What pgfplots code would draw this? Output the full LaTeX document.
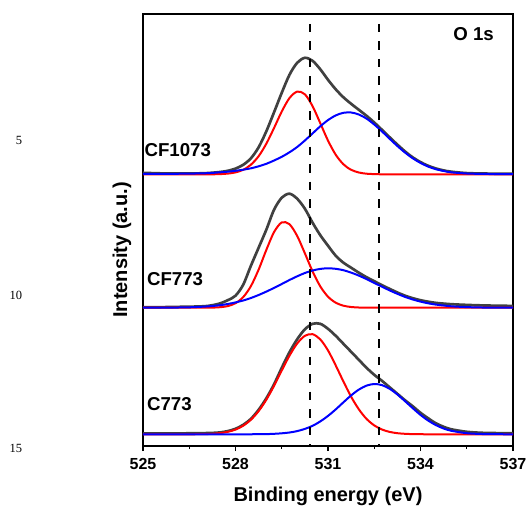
\documentclass[border=0pt]{standalone}
\usepackage{fontspec}
\setmainfont{Liberation Sans}
\newfontfamily\serifnum{Liberation Serif}
\usepackage{pgfplots}
\pgfplotsset{compat=1.18}
\usepackage{pgfplotstable}

% heights above each spectrum's own baseline: fit 1 (red), fit 2 (blue), measured (black)
\pgfplotstableread{
x r b k
525 0 0.3 1.5
525.5 0 0.4 1.0
526 0 0.5 0.8
526.5 0 0.7 0.8
527 0 1.0 1.1
527.25 0 1.4 1.6
527.5 0.2 2.0 2.3
527.75 0.7 2.6 3.5
528 1.9 3.5 5.7
528.25 4.5 4.6 9.5
528.5 9.6 6.0 16.0
528.75 18.1 8.0 27.0
529 30.6 10.5 43.0
529.25 46.3 13.8 62.0
529.5 62.8 17.5 81.5
529.75 76.2 22.0 99.5
530 82.7 27.3 111.5
530.25 80.0 33.8 116.5
530.5 68.1 40.9 113.5
530.75 51.1 48.0 105.0
531 33.7 54.2 94.5
531.25 19.6 58.9 85.0
531.5 10.0 61.5 77.0
531.75 4.5 61.8 70.5
532 1.8 59.8 64.5
532.25 0.6 55.7 58.5
532.5 0.2 49.8 51.8
532.75 0 42.9 44.5
533 0 35.5 37.0
533.25 0 28.3 29.7
533.5 0 21.7 22.8
533.75 0 16.0 16.9
534 0 11.4 12.2
534.25 0 7.7 8.5
534.5 0 5.1 5.8
534.75 0 3.3 3.9
535 0 2.0 2.6
535.5 0 0.8 1.2
536 0 0.4 0.8
536.5 0 0.2 0.6
537 0 0.1 0.5
}\cfhigh

\pgfplotstableread{
x r b k
525 0 0 0.5
525.5 0 0.05 0.5
526 0 0.15 0.8
526.5 0 0.4 1.0
527 0 1.1 1.5
527.25 0.1 1.7 2.5
527.5 0.5 2.5 4.3
527.75 1.6 3.7 7.5
528 4.5 5.3 12.0
528.25 10.6 7.2 23.0
528.5 21.6 9.7 42.0
528.75 38.1 12.7 60.0
529 57.8 16.1 78.0
529.25 75.6 19.8 98.0
529.5 85.3 23.7 110.0
529.75 83.5 27.7 114.0
530 71.8 31.4 109.0
530.25 54.4 34.7 99.0
530.5 36.3 37.2 85.0
530.75 21.3 38.8 72.5
531 11.0 39.4 62.0
531.25 5.0 38.9 52.0
531.5 2.0 37.5 45.0
531.75 0.7 35.1 40.0
532 0.2 32.1 35.0
532.25 0 28.6 30.5
532.5 0 24.8 26.5
532.75 0 21.0 22.5
533 0 17.3 18.8
533.25 0 13.9 15.2
533.5 0 10.8 12.0
533.75 0 8.2 9.5
534 0 6.1 7.5
534.25 0 4.4 6.0
534.5 0 3.1 4.8
534.75 0 2.2 4.1
535 0 1.4 3.5
535.5 0 0.6 2.8
536 0 0.2 2.3
536.5 0 0.1 2.0
537 0 0 1.8
}\cflow

\pgfplotstableread{
x r b k
525 0 0 0.8
525.5 0 0 0.8
526 0 0 0.9
526.5 0 0 1.0
527 0.2 0 1.2
527.25 0.5 0 1.4
527.5 1.2 0 1.9
527.75 2.5 0 3.2
528 4.7 0 5.5
528.25 8.6 0 9.5
528.5 14.6 0.05 15.5
528.75 23.2 0.1 24.5
529 34.6 0.2 36.0
529.25 48.5 0.5 50.0
529.5 63.8 1.0 66.5
529.75 78.6 1.8 82.0
530 90.8 3.2 95.0
530.25 98.5 5.4 105.0
530.5 100.1 8.5 110.5
530.75 94.9 12.9 110.5
531 83.9 18.4 105.5
531.25 68.9 24.9 98.5
531.5 52.8 32.0 90.5
531.75 37.6 38.9 82.5
532 25.0 44.7 74.5
532.25 15.4 48.7 66.5
532.5 8.9 50.3 59.5
532.75 4.8 49.2 53.5
533 2.4 45.5 47.0
533.25 1.1 39.9 40.5
533.5 0.5 33.1 34.0
533.75 0.2 26.1 28.0
534 0.1 19.4 21.5
534.25 0 13.7 16.0
534.5 0 9.2 11.0
534.75 0 5.8 7.5
535 0 3.5 5.0
535.5 0 1.1 2.5
536 0 0.3 1.5
536.5 0 0.1 1.2
537 0 0 1.0
}\cplain

\definecolor{meas}{RGB}{64,64,64}

\begin{document}
\begin{tikzpicture}
\path[use as bounding box] (-85.8pt,-36pt) rectangle (229.8pt,267.6pt);
\begin{axis}[
    at={(0,0)}, anchor=south west,
    scale only axis, width=222pt, height=259.2pt,
    xmin=525, xmax=537, ymin=0, ymax=432,
    xtick={525,528,531,534,537}, minor x tick num=1,
    ytick=\empty,
    xtick pos=bottom, tick align=outside,
    major tick length=3pt, minor tick length=1.8pt,
    every tick/.style={black, line width=0.8pt},
    axis line style={line width=1.2pt},
    /pgf/number format/assume math mode=true,
    /pgf/number format/1000 sep={},
    xticklabel style={font=\fontsize{9.6}{11}\selectfont\bfseries, yshift=-1.1pt},
    xlabel={Binding energy (eV)},
    xlabel style={at={(axis description cs:0.5,-0.1157)}, anchor=center,
        font=\fontsize{12}{14}\selectfont\bfseries},
    ylabel={Intensity (a.u.)},
    ylabel style={at={(axis description cs:-0.057,0.454)}, anchor=center,
        font=\fontsize{12}{14}\selectfont\bfseries},
]
% CF1073
\addplot[meas, line width=1.6pt, smooth] table[x=x, y expr=\thisrow{k}+271.7] {\cfhigh};
\addplot[red, line width=1.2pt, smooth] table[x=x, y expr=\thisrow{r}+271.7] {\cfhigh};
\addplot[blue, line width=1.2pt, smooth] table[x=x, y expr=\thisrow{b}+271.7] {\cfhigh};
% CF773
\addplot[meas, line width=1.6pt, smooth] table[x=x, y expr=\thisrow{k}+138.3] {\cflow};
\addplot[red, line width=1.2pt, smooth] table[x=x, y expr=\thisrow{r}+138.3] {\cflow};
\addplot[blue, line width=1.2pt, smooth] table[x=x, y expr=\thisrow{b}+138.3] {\cflow};
% C773
\addplot[meas, line width=1.6pt, smooth] table[x=x, y expr=\thisrow{k}+11.7] {\cplain};
\addplot[red, line width=1.2pt, smooth] table[x=x, y expr=\thisrow{r}+11.7] {\cplain};
\addplot[blue, line width=1.2pt, smooth] table[x=x, y expr=\thisrow{b}+11.7] {\cplain};

% guide lines, drawn from just under the top frame downwards
\addplot[black, line width=1pt, dash pattern=on 5.1pt off 5.4pt] coordinates {(530.42,422) (530.42,0)};
\addplot[black, line width=1pt, dash pattern=on 5.1pt off 5.4pt] coordinates {(532.66,422) (532.66,0)};

\node[anchor=base west, inner sep=0pt, font=\fontsize{11.2}{13}\selectfont\bfseries] at (axis cs:525.04,289.3) {CF1073};
\node[anchor=base west, inner sep=0pt, font=\fontsize{11.2}{13}\selectfont\bfseries] at (axis cs:525.12,160.3) {CF773};
\node[anchor=base west, inner sep=0pt, font=\fontsize{11.2}{13}\selectfont\bfseries] at (axis cs:525.12,35.3) {C773};
\node[anchor=base east, inner sep=0pt, font=\fontsize{11.2}{13}\selectfont\bfseries] at (axis cs:536.39,405) {O 1s};
\end{axis}
\node[font=\serifnum\fontsize{7.5}{9}\selectfont] at (-74.4pt,183.6pt) {5};
\node[font=\serifnum\fontsize{7.5}{9}\selectfont] at (-76.2pt,90.6pt) {10};
\node[font=\serifnum\fontsize{7.5}{9}\selectfont] at (-76.2pt,-1.2pt) {15};
\end{tikzpicture}
\end{document}
